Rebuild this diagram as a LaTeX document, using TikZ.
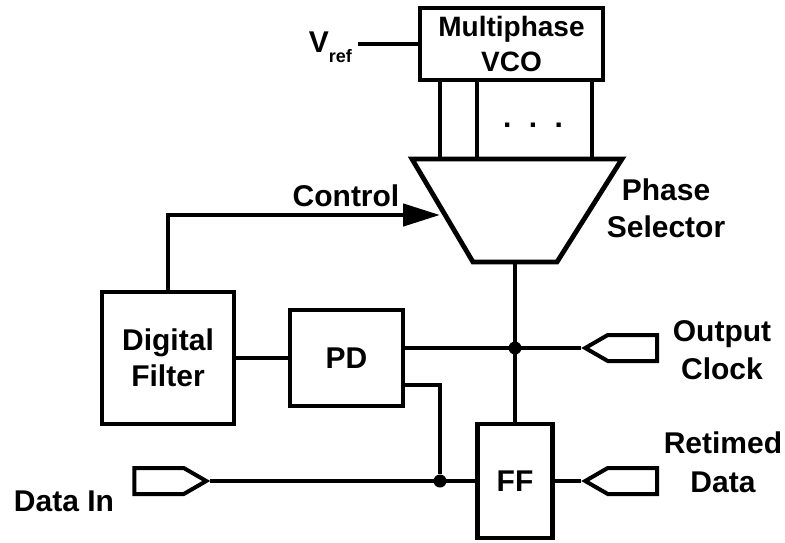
\documentclass[tikz,border=0pt]{standalone}
\usepackage{fontspec}
\setmainfont{Liberation Sans}
\usetikzlibrary{positioning,arrows.meta,shapes.symbols}
\definecolor{wireInk}{RGB}{0,0,0}

\begin{document}
\begin{tikzpicture}[
  x=1pt,y=-1pt,
  font=\fontsize{30}{37}\selectfont\bfseries,
  every node/.style={inner sep=1pt},
  blk/.style={draw=wireInk,fill=white,line width=4.8pt,align=center,inner sep=0pt},
  wire/.style={draw=wireInk,line width=4.5pt},
  ctl/.style={wire,-{Triangle[length=37pt,width=22pt]}},
  pin/.style={draw=wireInk,fill=white,line width=4pt,shape=signal,
              signal pointer angle=60,minimum width=72pt,minimum height=26pt,
              inner sep=0pt},
  jdot/.style={circle,fill=wireInk,minimum size=13pt,inner sep=0pt},
  lbl/.style={align=center}
]
\useasboundingbox (0,0) rectangle (785,542);

% ---- blocks ----
\node[blk,minimum width=183pt,minimum height=72pt,
      font=\fontsize{28}{35}\selectfont\bfseries] (vco) at (511.5,44)
  {Multiphase\\VCO};
\node[blk,minimum width=132pt,minimum height=132pt] (filt) at (168,358)
  {Digital\\[-1pt]Filter};
\node[blk,minimum width=113pt,minimum height=96pt] (pd) at (346.5,358) {PD};
\node[blk,minimum width=75pt,minimum height=114pt] (ff) at (515,481) {FF};

% ---- phase selector (trapezoid) ----
\coordinate (selTL) at (412,159);
\coordinate (selTR) at (622,159);
\coordinate (selBR) at (557,262);
\coordinate (selBL) at (473,262);
\coordinate (selOut) at (515,262);
\coordinate (ctlIn) at (440,215);
\coordinate (ph1) at (440,159);
\coordinate (ph2) at (477,159);
\coordinate (phN) at (592,159);
\draw[wire,line width=4.8pt,line join=miter] (selTL) -- (selTR) -- (selBR) -- (selBL) -- cycle;

% ---- phase taps ----
\foreach \P in {ph1,ph2,phN}{
  \draw[wire] (\P |- vco.south) -- (\P);
}
\node (dots) at (533,125) {.\hspace{17.5pt}.\hspace{17.5pt}.};

% ---- pins ----
\node[pin,signal to=east] (din) at (159,481) {};
\node[pin,signal to=west] (clk) at (632.5,348) {};
\node[pin,signal to=west] (dout) at (632.5,481) {};

% ---- junctions ----
\node[jdot] (j1) at (515,348) {};
\node[jdot] (j2) at (440,481) {};

% ---- labels ----
\node[anchor=base east,inner xsep=6pt] (vref) at (358,52)
  {V\raisebox{-10pt}{\fontsize{18}{18}\selectfont ref}};
\node (ctlLbl) at (346,196) {Control};
\node[lbl] (selLbl) at (666,208) {Phase\\Selector};
\node[lbl] (clkLbl) at (722,350) {Output\\[1pt]Clock};
\node[lbl] (doutLbl) at (723,462) {Retimed\\[2pt]Data};
\node (dinLbl) at (64,501) {Data In};

% ---- wires ----
\draw[wire] (vco.west -| vref.east) -- (vco.west);
\draw[ctl] (filt.north) |- (ctlIn);
\draw[wire] (filt.east) -- (pd.west);
\draw[wire] (pd.east |- j1) -- (clk.west);
\draw[wire] (selOut) -- (ff.north);
\draw[wire] ([yshift=-27pt]pd.east) -| (j2);
\draw[wire] (din.east) -- (ff.west);
\draw[wire] (ff.east) -- (dout.west);

\end{tikzpicture}
\end{document}
